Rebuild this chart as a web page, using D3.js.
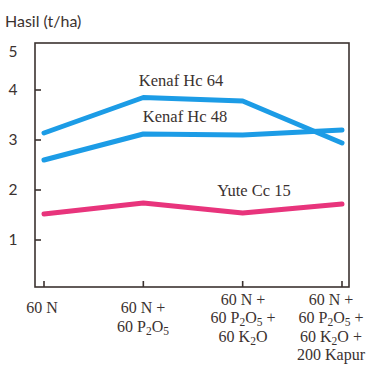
<!DOCTYPE html>
<html>
<head>
<meta charset="utf-8">
<script src="https://cdn.jsdelivr.net/npm/d3@7"></script>
<style>
  body { margin: 0; background: #fff; }
  svg { display: block; }
  .serif { font-family: "Liberation Serif", "DejaVu Serif", serif; fill: #3b3230; }
  .sans { font-family: "Lato", "DejaVu Sans", sans-serif; fill: #3b3230; }
</style>
</head>
<body>
<svg id="chart" width="374" height="367"></svg>
<script>
// treatment categories (x axis), each label split into lines; "_" marks a subscript digit
const categories = ["A", "B", "C", "D"];
const catLabels = [
    ["60 N"],
    ["60 N +", "60 P_2O_5"],
    ["60 N +", "60 P_2O_5 +", "60 K_2O"],
    ["60 N +", "60 P_2O_5 +", "60 K_2O +", "200 Kapur"]
];
const yTicks = [1, 2, 3, 4, 5];

// yield values (t/ha)
const kenafHc64 = [3.14, 3.85, 3.78, 2.94];
const kenafHc48 = [2.60, 3.12, 3.10, 3.20];
const yuteCc15 = [1.52, 1.74, 1.54, 1.72];

const series = [
    { name: "Kenaf Hc 64", values: kenafHc64, color: "#1c9ce6" },
    { name: "Kenaf Hc 48", values: kenafHc48, color: "#1c9ce6" },
    { name: "Yute Cc 15", values: yuteCc15, color: "#e8347c" }
];

const svg = d3.select("#chart");
const frame = { left: 35, right: 349, top: 43, bottom: 287 };
const ink = "#3b3230";

let x = d3.scalePoint().domain(categories).range([44, 342]);
let y = d3.scaleLinear().domain([0, 5]).range([290, 40]);

// frame
svg.append("rect")
    .attr("x", frame.left).attr("y", frame.top)
    .attr("width", frame.right - frame.left).attr("height", frame.bottom - frame.top)
    .attr("fill", "none").attr("stroke", ink).attr("stroke-width", 1.6);

// y ticks pointing inward
svg.append("g").selectAll("line")
    .data(yTicks.filter(d => d < 5))
    .enter().append("line")
    .attr("x1", frame.left).attr("x2", frame.left + 6)
    .attr("y1", d => y(d)).attr("y2", d => y(d))
    .attr("stroke", ink).attr("stroke-width", 1.6);

svg.append("g").selectAll("text")
    .data(yTicks)
    .enter().append("text")
    .attr("class", "sans")
    .attr("x", 13)
    .attr("y", d => d == 5 ? 52 : y(d))
    .attr("dy", "0.35em")
    .attr("text-anchor", "middle")
    .attr("font-size", 15.5)
    .text(d => d);

// x ticks pointing up
svg.append("g").selectAll("line")
    .data(categories)
    .enter().append("line")
    .attr("x1", d => x(d)).attr("x2", d => x(d))
    .attr("y1", frame.bottom).attr("y2", frame.bottom - 6)
    .attr("stroke", ink).attr("stroke-width", 1.6);

// x labels, subscripts drawn as smaller shifted tspans
const labelX = [42, 143, 243, 331];
const labelY = [313, 313, 304.5, 304.5];
catLabels.forEach((lines, i) => {
    lines.forEach((ln, j) => {
        let t = svg.append("text")
            .attr("class", "serif")
            .attr("x", labelX[i])
            .attr("y", labelY[i] + j * 18.6)
            .attr("text-anchor", "middle")
            .attr("font-size", 16);
        ln.split(/(_\d)/).forEach(part => {
            if (part.startsWith("_")) {
                t.append("tspan")
                    .attr("font-size", 11.5)
                    .attr("baseline-shift", "-3")
                    .text(part.slice(1));
            } else if (part.length) {
                t.append("tspan").text(part);
            }
        });
    });
});

// axis title
svg.append("text")
    .attr("class", "sans")
    .attr("x", 5).attr("y", 27)
    .attr("font-size", 16)
    .text("Hasil (t/ha)");

// lines
let line = d3.line()
    .x((d, i) => x(categories[i]))
    .y(d => y(d));

svg.append("g").selectAll("path")
    .data(series)
    .enter().append("path")
    .attr("d", d => line(d.values))
    .attr("fill", "none")
    .attr("stroke", d => d.color)
    .attr("stroke-width", 5)
    .attr("stroke-linecap", "round")
    .attr("stroke-linejoin", "round");

// series labels
const seriesLabelPos = [[181, 86], [185, 122], [254, 196]];
svg.append("g").selectAll("text")
    .data(series)
    .enter().append("text")
    .attr("class", "serif")
    .attr("x", (d, i) => seriesLabelPos[i][0])
    .attr("y", (d, i) => seriesLabelPos[i][1])
    .attr("text-anchor", "middle")
    .attr("font-size", 16.5)
    .text(d => d.name);
</script>
</body>
</html>
